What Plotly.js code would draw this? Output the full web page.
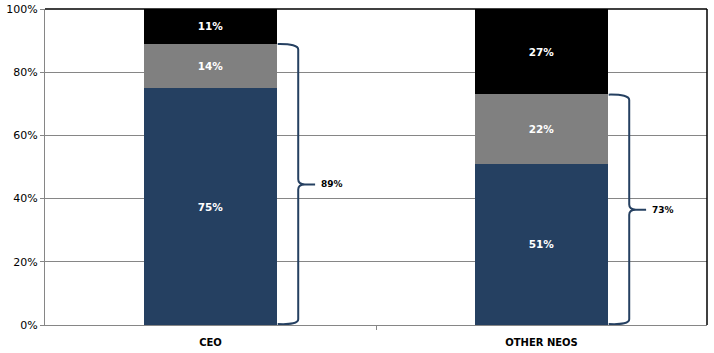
<!DOCTYPE html>
<html>
<head>
<meta charset="utf-8">
<script src="https://cdn.plot.ly/plotly-3.0.1.min.js"></script>
<style>html,body{margin:0;padding:0;background:#fff}#chart{width:714px;height:353px}</style>
</head>
<body>
<div id="chart"></div>
<script>
var categories = ["CEO", "OTHER NEOS"];
var seriesBottom = [75, 51];
var seriesMiddle = [14, 22];
var seriesTop = [11, 27];
var yTickVals = [0, 20, 40, 60, 80, 100];
var yTickText = ["0%", "20%", "40%", "60%", "80%", "100%"];

var xPos = categories.map(function (c, i) { return i; });
var colors = ["#254061", "#808080", "#000000"];
var series = [seriesBottom, seriesMiddle, seriesTop];

var traces = series.map(function (vals, k) {
  return {
    type: "bar",
    x: xPos,
    y: vals,
    width: 0.4,
    marker: { color: colors[k], line: { width: 0 } },
    text: vals.map(function (v) { return v + "%"; }),
    textposition: "inside",
    insidetextanchor: "middle",
    textangle: 0,
    textfont: { family: "DejaVu Sans", size: 10.5, color: "#ffffff", weight: "bold" },
    hoverinfo: "none",
    showlegend: false
  };
});

// braces spanning bottom + middle segments
var shapes = [];
var annotations = [];
xPos.forEach(function (xc, i) {
  var total = seriesBottom[i] + seriesMiddle[i];
  var xe = xc + 0.203, xv = xc + 0.265, xp = xc + 0.285, xt = xc + 0.316;
  var yT = total, yB = 0, yM = total / 2;
  var h = 1.8, m = 1.6;
  var p = "M " + xe + "," + (yT - 0.1) +
    " Q " + xv + "," + yT + " " + xv + "," + (yT - h) +
    " L " + xv + "," + (yM + m) +
    " Q " + xv + "," + yM + " " + xp + "," + yM +
    " L " + xt + "," + yM +
    " M " + xp + "," + yM +
    " Q " + xv + "," + yM + " " + xv + "," + (yM - m) +
    " L " + xv + "," + (yB + h) +
    " Q " + xv + "," + yB + " " + xe + "," + (yB + 0.3);
  shapes.push({ type: "path", xref: "x", yref: "y", path: p,
    line: { color: "#254061", width: 2 } });
  annotations.push({ x: xt + 0.012, y: yM, xref: "x", yref: "y",
    text: total + "%", showarrow: false, xanchor: "left", yanchor: "middle",
    font: { family: "DejaVu Sans", size: 9, color: "#000000", weight: "bold" } });
});
// top and right border
shapes.push({ type: "line", xref: "x domain", yref: "y domain", x0: 0, x1: 1, y0: 1, y1: 1,
  line: { color: "#000000", width: 1.5 } });
shapes.push({ type: "line", xref: "x domain", yref: "y domain", x0: 1, x1: 1, y0: 0, y1: 1,
  line: { color: "#000000", width: 1.5 } });

var layout = {
  width: 714, height: 353,
  margin: { l: 45, r: 7, t: 9, b: 28, pad: 0 },
  paper_bgcolor: "#ffffff", plot_bgcolor: "#ffffff",
  barmode: "stack",
  font: { family: "DejaVu Sans", size: 11, color: "#000000" },
  xaxis: {
    range: [-0.5, 1.5],
    tickmode: "array", tickvals: xPos, ticktext: categories,
    ticks: "", showgrid: false, zeroline: false,
    showline: true, linecolor: "#868686", linewidth: 1,
    ticklabelstandoff: 8,
    tickfont: { family: "DejaVu Sans", size: 10, color: "#000000", weight: "bold" },
    minor: { tickmode: "array", tickvals: [0.5], ticks: "outside", ticklen: 4, tickcolor: "#868686", showgrid: false }
  },
  yaxis: {
    range: [0, 100],
    tickmode: "array", tickvals: yTickVals, ticktext: yTickText,
    ticks: "outside", ticklen: 4, tickcolor: "#868686",
    showgrid: true, gridcolor: "#868686", gridwidth: 1,
    zeroline: false, showline: true, linecolor: "#868686", linewidth: 1,
    tickfont: { family: "DejaVu Sans", size: 11, color: "#000000" }
  },
  shapes: shapes,
  annotations: annotations
};

Plotly.newPlot("chart", traces, layout, { displayModeBar: false, staticPlot: true });
</script>
</body>
</html>
